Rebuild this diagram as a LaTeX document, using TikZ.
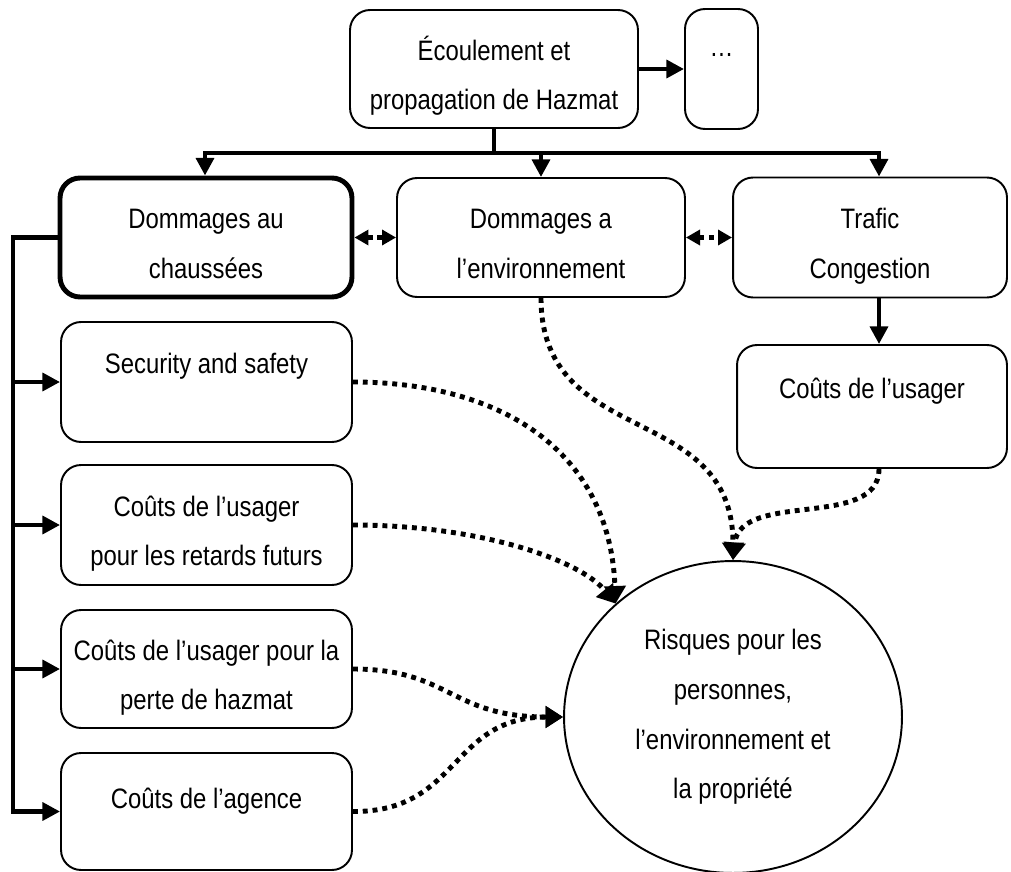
\documentclass[tikz,border=0pt]{standalone}
\usepackage{fontspec}
\setmainfont{Liberation Sans}[FakeStretch=0.85]
\usetikzlibrary{arrows.meta,shapes.geometric}
\tikzset{
  box/.style={draw,line width=1.1pt,rounded corners=0.4cm,align=center,inner sep=0pt,
    minimum width=5.82cm,minimum height=2.38cm},
  twoline/.style={text height=1.84cm,text depth=0.2cm},
  oneline/.style={text height=0.4cm,text depth=#1},
  solidlink/.style={line width=2.7pt,-{Triangle[length=10pt,width=10pt]}},
  dotlink/.style={line width=2.8pt,dash pattern=on 2.8pt off 2.8pt,-{Triangle[length=10pt,width=12pt]}},
  bothlink/.style={line width=2.8pt,dash pattern=on 2.8pt off 2.8pt,
    {Triangle[length=8pt,width=8.5pt]}-{Triangle[length=8pt,width=8.5pt]}}
}
\begin{document}
\begin{tikzpicture}[x=0.02cm,y=-0.02cm,font=\fontsize{16pt}{28.35pt}\selectfont]
  \useasboundingbox (0,0) rectangle (1011,872);
  \draw
    (494,69) node[box,twoline,minimum width=5.76cm,minimum height=2.36cm] (flow){Écoulement et\\propagation de Hazmat}
    (721.5,69) node[box,oneline=0.9cm,minimum width=1.46cm,minimum height=2.4cm] (dots){\dots}
    (206,237.5) node[box,twoline,line width=2.8pt,minimum width=5.84cm] (pavement){Dommages au\\chaussées}
    (541,237.5) node[box,twoline,minimum width=5.76cm] (environment){Dommages a\\l’environnement}
    (870,237.5) node[box,twoline,minimum width=5.48cm,minimum height=2.4cm] (traffic){Trafic\\Congestion}
    (872,406.5) node[box,oneline=0.74cm,minimum width=5.4cm,minimum height=2.46cm] (usercost){Coûts de l’usager}
    (206.5,382) node[box,oneline=0.76cm,minimum height=2.4cm] (safety){Security and safety}
    (206.5,525) node[box,twoline,minimum height=2.4cm] (delay){Coûts de l’usager\\pour les retards futurs}
    (206.5,669) node[box,twoline,minimum height=2.36cm] (loss){Coûts de l’usager pour la\\perte de hazmat}
    (206.5,811.5) node[box,oneline=0.54cm,minimum height=2.34cm] (agency){Coûts de l’agence}
    (733,717) node[draw,ellipse,line width=1.1pt,inner sep=0pt,align=center,
      minimum width=6.76cm,minimum height=6.24cm] (risk){Risques pour les\\personnes,\\l’environnement et\\la propriété};
  \coordinate (barL) at (205,153);
  \coordinate (barR) at (879,153);
  \coordinate (spine) at (13,237.5);
  \begin{scope}[solidlink]
    \draw (flow) -- (dots);
    \draw[-] (flow.south) -- (flow.south |- barL);
    \draw[{Triangle[length=10pt,width=10pt]}-{Triangle[length=10pt,width=10pt]}]
      (barL |- pavement.north) -- (barL) -- (barR) -- (barR |- traffic.north);
    \draw (environment.north |- barL) -- (environment.north);
    \draw (traffic.south -| barR) -- (usercost.north -| barR);
    \draw (pavement.west) -- (spine) -- (spine |- agency.west) -- (agency.west);
    \draw (spine |- safety.west) -- (safety.west);
    \draw (spine |- delay.west) -- (delay.west);
    \draw (spine |- loss.west) -- (loss.west);
  \end{scope}
  \draw[bothlink] (pavement) -- (environment);
  \draw[bothlink] (environment) -- (traffic);
  \begin{scope}[dotlink]
    \draw (environment.south) .. controls (541,450) and (733,400) .. (risk.north);
    \draw (usercost.south -| barR) .. controls (879,530) and (740,490) .. (risk.north);
    \draw (safety.east) .. controls (500,382) and (610,450) .. (risk.136);
    \draw (delay.east) .. controls (480,525) and (580,560) .. (risk.136);
    \draw (loss.east) .. controls (450,669) and (450,717) .. (risk.west);
    \draw (agency.east) .. controls (460,812) and (450,717) .. (risk.west);
  \end{scope}
\end{tikzpicture}
\end{document}
